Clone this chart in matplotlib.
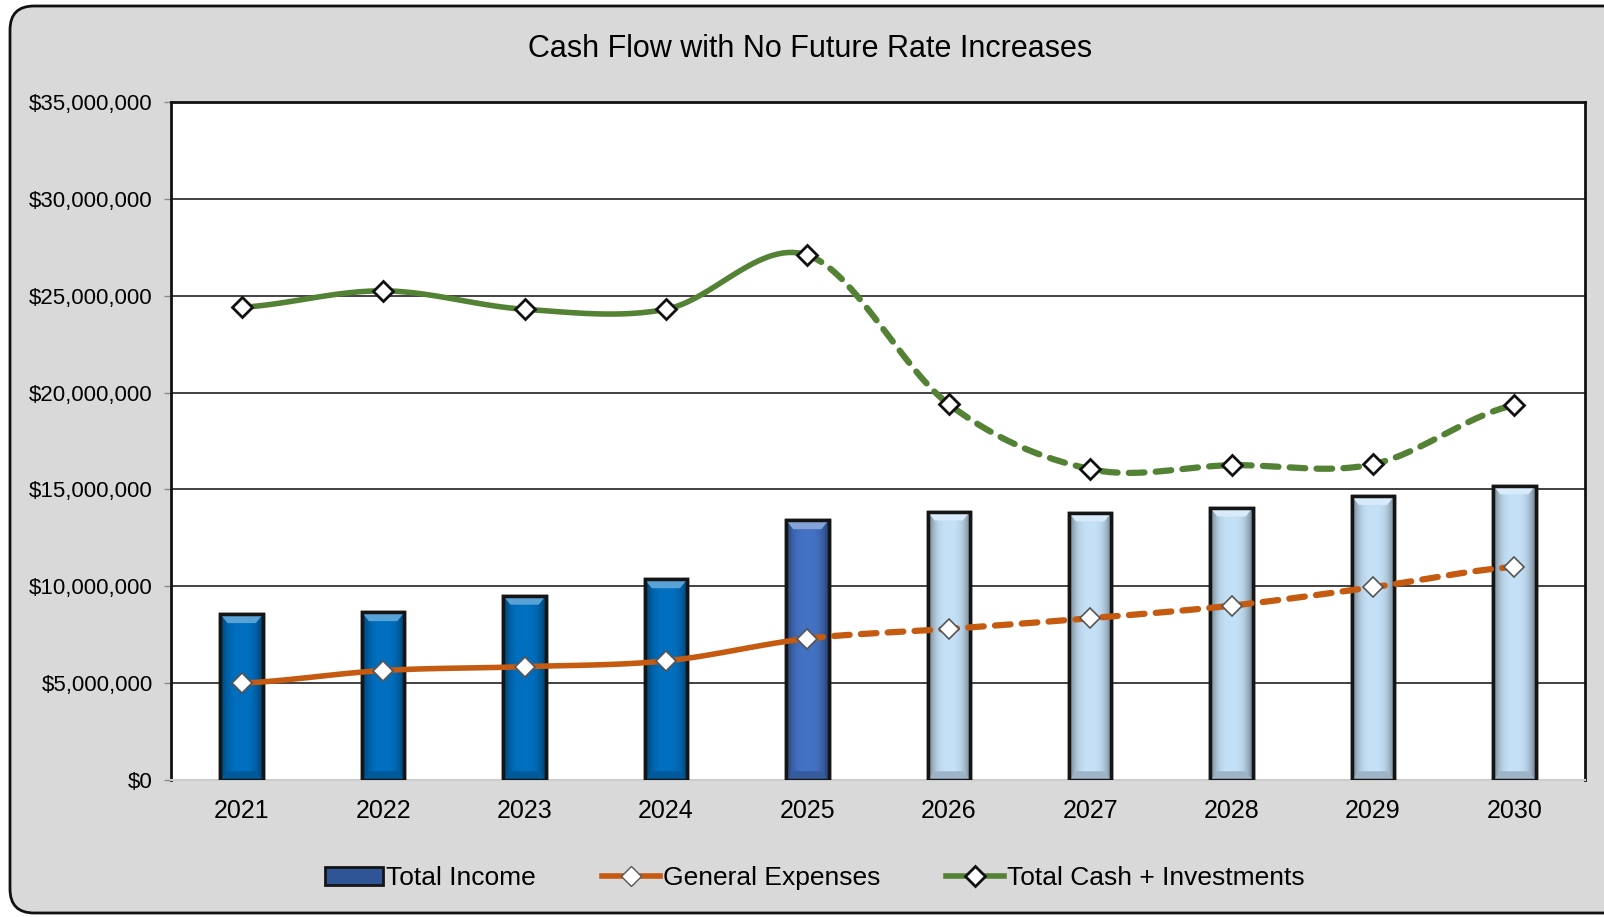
import numpy as np
import matplotlib.pyplot as plt
from matplotlib.patches import FancyBboxPatch, Polygon
from matplotlib.lines import Line2D
from matplotlib.transforms import IdentityTransform
from matplotlib.ticker import FuncFormatter
from matplotlib.colors import to_rgb

plt.rcParams['font.family'] = ['Liberation Sans Narrow', 'Liberation Sans', 'DejaVu Sans']

# data
years = ['2021', '2022', '2023', '2024', '2025', '2026', '2027', '2028', '2029', '2030']
total_income = [8.55e6, 8.65e6, 9.5e6, 10.35e6, 13.4e6, 13.85e6, 13.8e6, 14.05e6, 14.65e6, 15.2e6]
general_expenses = [5.0e6, 5.65e6, 5.85e6, 6.15e6, 7.3e6, 7.8e6, 8.35e6, 9.0e6, 9.95e6, 11.0e6]
total_cash = [24.4e6, 25.25e6, 24.3e6, 24.3e6, 27.1e6, 19.4e6, 16.05e6, 16.25e6, 16.3e6, 19.35e6]
bar_colors = ['#0070C0'] * 4 + ['#4472C4'] + ['#C5E1F7'] * 5
split = 4  # last actual year (2025), projections dashed after it


def smooth(xs, ys, n=30):
    # Catmull-Rom style smoothing, like Excel's smoothed line
    xs = np.asarray(xs, float)
    ys = np.asarray(ys, float)
    px = np.concatenate([[2 * xs[0] - xs[1]], xs, [2 * xs[-1] - xs[-2]]])
    py = np.concatenate([[ys[0]], ys, [ys[-1]]])
    outx, outy = [], []
    for i in range(1, len(px) - 2):
        t = np.linspace(0, 1, n)
        for p, out in ((px, outx), (py, outy)):
            p0, p1, p2, p3 = p[i - 1], p[i], p[i + 1], p[i + 2]
            c1 = p1 + (p2 - p0) / 6
            c2 = p2 - (p3 - p1) / 6
            out.append((1 - t) ** 3 * p1 + 3 * (1 - t) ** 2 * t * c1 + 3 * (1 - t) * t ** 2 * c2 + t ** 3 * p2)
    return np.concatenate(outx), np.concatenate(outy)


fig = plt.figure(figsize=(16.04, 9.17), dpi=100)
fig.patch.set_facecolor('white')
bg = FancyBboxPatch((10, 4), 1640, 907, boxstyle='round,pad=0,rounding_size=24',
                    transform=IdentityTransform(), facecolor='#D9D9D9',
                    edgecolor='#111111', linewidth=2, zorder=-10)
fig.patches.append(bg)

ax = fig.add_axes([0.1066, 0.1494, 0.8816, 0.7394])
ax.set_facecolor('white')
x = np.arange(len(years))

# bars with a simple bevel look
bw = 0.3
bars = ax.bar(x, total_income, width=bw, color=bar_colors, edgecolor='#151515', linewidth=2.5, zorder=3)
for b, c in zip(bars, bar_colors):
    base = np.array(to_rgb(c))
    u = np.linspace(-1, 1, 40)
    shade = 1 - 0.45 * np.abs(u) ** 3
    grad = (base[None, :] * shade[:, None])[None, :, :]
    bx, bwid, bh = b.get_x(), b.get_width(), b.get_height()
    im = ax.imshow(grad, extent=[bx, bx + bwid, 0, bh], aspect='auto', zorder=3.1,
                   interpolation='bilinear')
    im.set_clip_path(b)
    hi = np.clip(base + (1 - base) * 0.35, 0, 1)
    dy = 0.45e6
    dx = 0.05
    ax.add_patch(Polygon([[bx, bh], [bx + bwid, bh], [bx + bwid - dx, bh - dy], [bx + dx, bh - dy]],
                         closed=True, facecolor=hi, edgecolor='none', zorder=3.2))
    ax.add_patch(Polygon([[bx, 0], [bx + bwid, 0], [bx + bwid - dx, dy], [bx + dx, dy]],
                         closed=True, facecolor=base * 0.8, edgecolor='none', zorder=3.2))
    ax.add_patch(plt.Rectangle((bx, 0), bwid, bh, fill=False, edgecolor='#151515', linewidth=2.5, zorder=3.3))

# smoothed lines, solid for actuals and dashed for projections
for vals, col, mec, mlw in ((general_expenses, '#C55A11', '#555555', 1.2),
                            (total_cash, '#548235', '#111111', 2.0)):
    sx, sy = smooth(x, vals)
    n = 30
    cut = split * n
    ax.plot(sx[:cut], sy[:cut], color=col, lw=4, solid_capstyle='round', zorder=4)
    ax.plot(sx[cut:], sy[cut:], color=col, lw=4.5, ls=(0, (2.5, 1.8)), dash_capstyle='round', zorder=4)
    ax.plot(x, vals, ls='none', marker='D', markersize=10, markerfacecolor='white',
            markeredgecolor=mec, markeredgewidth=mlw, zorder=5)

ax.set_xlim(-0.5, 9.5)
ax.set_ylim(0, 35e6)
ax.set_yticks(np.arange(0, 35e6 + 1, 5e6))
ax.yaxis.set_major_formatter(FuncFormatter(lambda v, p: '${:,.0f}'.format(v)))
ax.set_xticks(x)
ax.set_xticklabels(years)
ax.tick_params(axis='y', labelsize=16, length=5, width=1, color='#888888', pad=8)
ax.tick_params(axis='x', labelsize=18, length=0, pad=14)
ax.grid(axis='y', color='#222222', lw=1.2, zorder=1)
ax.set_axisbelow(True)
for s in ('top', 'left', 'right'):
    ax.spines[s].set_color('#111111')
    ax.spines[s].set_linewidth(2)
ax.spines['bottom'].set_color('#CCCCCC')
ax.spines['bottom'].set_linewidth(1.5)

fig.text(0.505, 0.947, 'Cash Flow with No Future Rate Increases', ha='center', va='center', fontsize=22)

handles = [
    plt.Rectangle((0, 0), 1, 1, facecolor='#2F5597', edgecolor='#151515', linewidth=2),
    Line2D([], [], color='#C55A11', lw=4, marker='D', markersize=10, markerfacecolor='white',
           markeredgecolor='#555555'),
    Line2D([], [], color='#548235', lw=4, marker='D', markersize=10, markerfacecolor='white',
           markeredgecolor='#111111', markeredgewidth=2),
]
fig.legend(handles, ['Total Income', 'General Expenses', 'Total Cash + Investments'],
           loc='center', bbox_to_anchor=(0.508, 0.042), ncol=3, frameon=False, fontsize=19,
           handlelength=2.2, handletextpad=0.1, columnspacing=2.5)

fig.savefig('out.png', dpi=100, facecolor=fig.get_facecolor())
